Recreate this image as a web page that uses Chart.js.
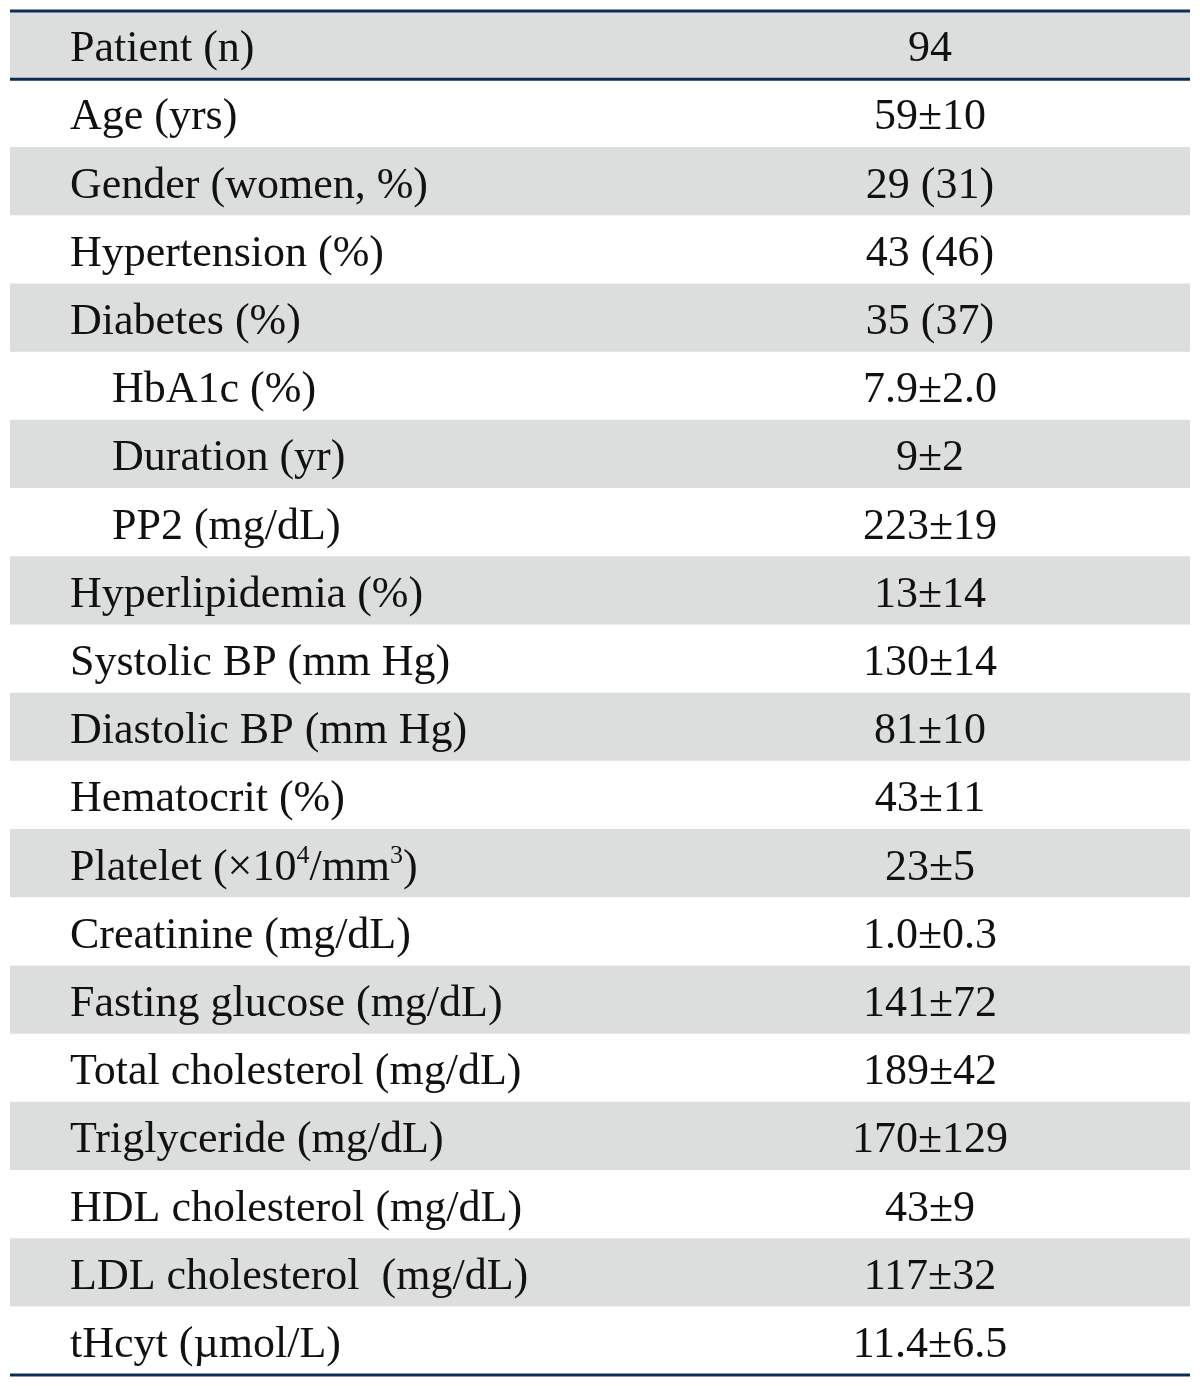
<!DOCTYPE html>
<html>
<head>
<meta charset="utf-8">
<script src="https://cdn.jsdelivr.net/npm/chart.js@4"></script>
<style>
  html, body { margin:0; padding:0; background:#fff; }
  #wrap { width:1200px; height:1386px; position:relative; }
</style>
</head>
<body>
<div id="wrap"><canvas id="tbl"></canvas></div>
<script>
// rows of the table (^x = superscript)
const rowLabels = [
  'Patient (n)', 'Age (yrs)', 'Gender (women, %)', 'Hypertension (%)', 'Diabetes (%)',
  'HbA1c (%)', 'Duration (yr)', 'PP2 (mg/dL)', 'Hyperlipidemia (%)', 'Systolic BP (mm Hg)',
  'Diastolic BP (mm Hg)', 'Hematocrit (%)', 'Platelet (×10^4/mm^3)', 'Creatinine (mg/dL)',
  'Fasting glucose (mg/dL)', 'Total cholesterol (mg/dL)', 'Triglyceride (mg/dL)',
  'HDL cholesterol (mg/dL)', 'LDL cholesterol  (mg/dL)', 'tHcyt (µmol/L)'
];
const rowValues = [
  '94', '59±10', '29 (31)', '43 (46)', '35 (37)',
  '7.9±2.0', '9±2', '223±19', '13±14', '130±14',
  '81±10', '43±11', '23±5', '1.0±0.3',
  '141±72', '189±42', '170±129',
  '43±9', '117±32', '11.4±6.5'
];
const subRows = ['HbA1c (%)', 'Duration (yr)', 'PP2 (mg/dL)'];

const GRAY = '#dcdddd';
const RULE = '#0e2a5a';
const FONT = '44px "Liberation Serif", "Times New Roman", serif';
const SUP = '26px "Liberation Serif", "Times New Roman", serif';
const X_MAX = 1180;
const LABEL_X = 60, SUB_X = 102, VALUE_X = 920;

function drawRich(ctx, text, x, y) {
  const parts = text.split(/(\^\d)/);
  parts.forEach(p => {
    if (!p) return;
    if (p[0] === '^') {
      ctx.font = SUP;
      ctx.fillText(p.slice(1), x, y - 17);
      x += ctx.measureText(p.slice(1)).width;
    } else {
      ctx.font = FONT;
      ctx.fillText(p, x, y);
      x += ctx.measureText(p).width;
    }
  });
}

const tablePlugin = {
  id: 'tableText',
  afterDatasetsDraw(chart) {
    const { ctx, chartArea, scales: { x, y } } = chart;
    const band = (chartArea.bottom - chartArea.top) / rowLabels.length;
    ctx.save();
    ctx.fillStyle = '#111';
    ctx.textBaseline = 'alphabetic';
    rowLabels.forEach((lab, i) => {
      const cy = y.getPixelForValue(i) + 16;
      ctx.textAlign = 'left';
      drawRich(ctx, lab, x.getPixelForValue(subRows.includes(lab) ? SUB_X : LABEL_X), cy);
      ctx.font = FONT;
      ctx.textAlign = 'center';
      ctx.fillText(rowValues[i], x.getPixelForValue(VALUE_X), cy);
    });
    // horizontal rules
    ctx.strokeStyle = RULE;
    ctx.lineWidth = 3;
    const xl = x.getPixelForValue(0), xr = x.getPixelForValue(X_MAX);
    [chartArea.top, y.getPixelForValue(0) + band / 2, chartArea.bottom].forEach(py => {
      ctx.beginPath();
      ctx.moveTo(xl, py);
      ctx.lineTo(xr, py);
      ctx.stroke();
    });
    ctx.restore();
  }
};

new Chart(document.getElementById('tbl'), {
  type: 'bar',
  data: {
    labels: rowLabels,
    datasets: [{
      data: rowLabels.map(() => X_MAX),
      backgroundColor: rowLabels.map((_, i) => i % 2 === 0 ? GRAY : '#ffffff'),
      barPercentage: 1,
      categoryPercentage: 1,
      borderWidth: 0
    }]
  },
  options: {
    indexAxis: 'y',
    responsive: true,
    maintainAspectRatio: false,
    animation: false,
    layout: { padding: { left: 10, right: 10, top: 11, bottom: 11 } },
    plugins: { legend: { display: false }, tooltip: { enabled: false } },
    scales: {
      x: { display: false, min: 0, max: X_MAX },
      y: { display: false }
    }
  },
  plugins: [tablePlugin]
});
</script>
</body>
</html>
